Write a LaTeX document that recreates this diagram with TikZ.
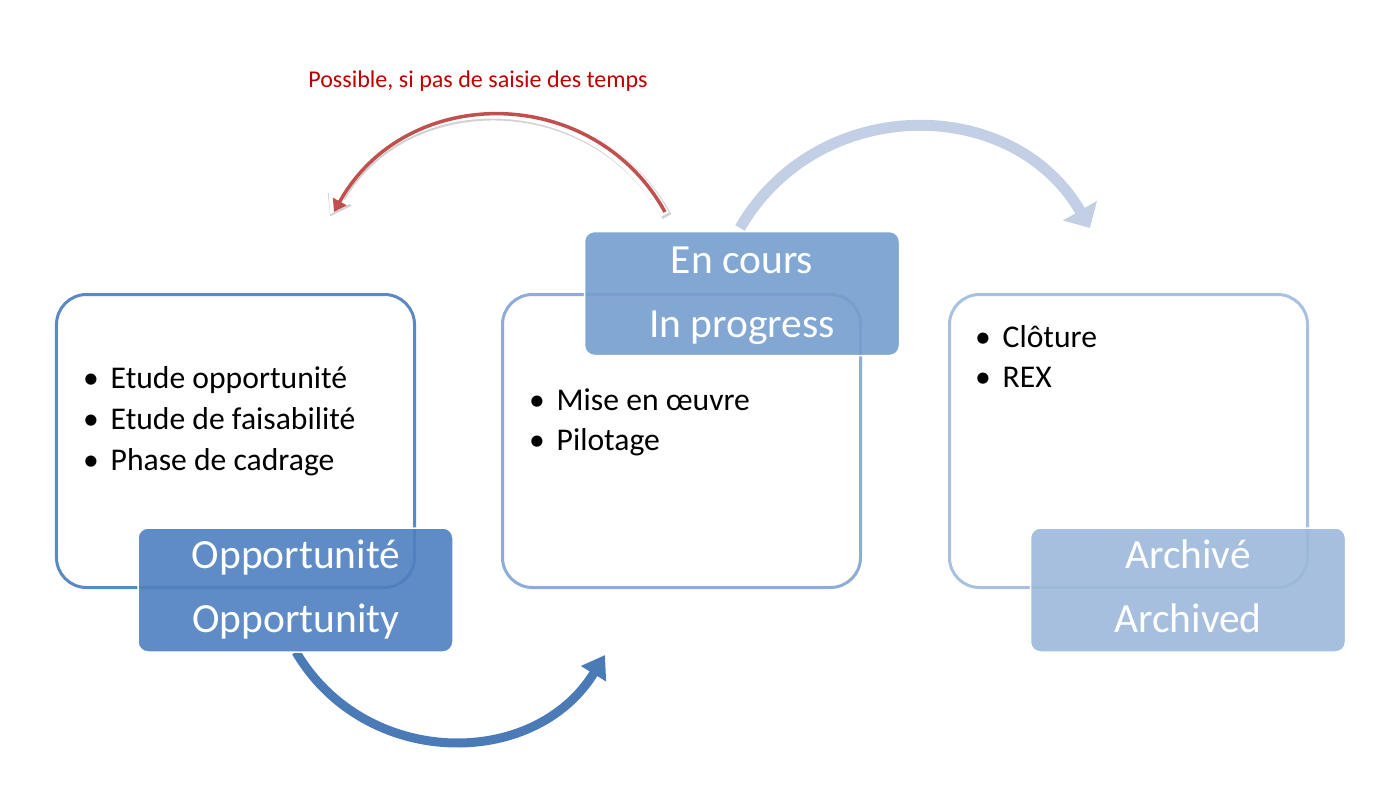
\documentclass[tikz,border=0pt]{standalone}
\usepackage{fontspec}
\setmainfont{Carlito}
\usetikzlibrary{arrows.meta}
\definecolor{bordA}{RGB}{91,137,196}
\definecolor{bordB}{RGB}{141,173,214}
\definecolor{bordC}{RGB}{169,193,225}
\definecolor{fondA}{RGB}{78,128,192}
\definecolor{fondB}{RGB}{118,157,206}
\definecolor{fondC}{RGB}{157,184,218}
\definecolor{flecheA}{RGB}{74,123,183}
\definecolor{flecheB}{RGB}{195,207,228}
\definecolor{flecheR}{RGB}{192,80,77}
\definecolor{texteR}{RGB}{192,0,0}

\begin{document}
\begin{tikzpicture}
\tikzset{cadre/.style={draw, rounded corners=0.3cm, line width=0.03cm, minimum width=3.58cm, minimum height=2.93cm},
etiquette/.style={draw=white, line width=0.015cm, rounded corners=0.1cm, fill opacity=0.9, minimum width=3.15cm, minimum height=1.24cm},
titre/.style={anchor=base, inner sep=0, text=white, font=\fontsize{11.8}{14}\selectfont},
item/.style={anchor=base west, inner sep=0, font=\fontsize{9}{11}\selectfont},
puce/.style={anchor=base, inner sep=0, font=\fontsize{9}{11}\selectfont}}
\useasboundingbox (0,0) rectangle (13.79,-7.85);
% boites
\node[cadre, draw=bordA] (cadreA) at (2.355,-4.41) {};
\node[cadre, draw=bordB] (cadreB) at (6.815,-4.41) {};
\node[cadre, draw=bordC] (cadreC) at (11.285,-4.41) {};
% listes
\node[puce] (pA1) at (0.91,-3.88) {•};
\node[item] (lA1) at (1.10,-3.88) {Etude opportunité};
\node[puce] (pA2) at (0.91,-4.29) {•};
\node[item] (lA2) at (1.10,-4.29) {Etude de faisabilité};
\node[puce] (pA3) at (0.91,-4.70) {•};
\node[item] (lA3) at (1.10,-4.70) {Phase de cadrage};
\node[puce] (pB1) at (5.37,-4.10) {•};
\node[item] (lB1) at (5.56,-4.10) {Mise en œuvre};
\node[puce] (pB2) at (5.37,-4.50) {•};
\node[item] (lB2) at (5.56,-4.50) {Pilotage};
\node[puce] (pC1) at (9.83,-3.47) {•};
\node[item] (lC1) at (10.02,-3.47) {Clôture};
\node[puce] (pC2) at (9.83,-3.87) {•};
\node[item] (lC2) at (10.02,-3.87) {REX};
% fleches
\coordinate (finA) at (6.05,-6.55);
\coordinate (finB) at (10.90,-2.28);
\coordinate (debR) at (6.65,-2.12);
\coordinate (finR) at (3.30,-2.12);
\node[titre, text=texteR, font=\fontsize{6.85}{8}\selectfont] (note) at (4.78,-0.88) {Possible, si pas de saisie des temps};
\draw[flecheA, line width=0.09cm, -{Triangle[length=0.22cm, width=0.28cm]}] (2.96,-6.52) to[bend right=59, looseness=1.12] (finA);
\draw[flecheB, line width=0.11cm, -{Triangle[length=0.2cm, width=0.38cm]}] (7.40,-2.28) to[bend left=60, looseness=1.135] (finB);
\draw[black!18, line width=0.1cm, -{Triangle[length=0.2cm, width=0.26cm]}] ([shift={(0.02,-0.045)}]debR) to[bend right=61, looseness=1.147] ([shift={(0.0,-0.045)}]finR);
\draw[white, line width=0.09cm, -{Triangle[length=0.2cm, width=0.24cm]}] ([yshift=-0.025cm]debR) to[bend right=61, looseness=1.147] ([yshift=-0.025cm]finR);
\draw[flecheR, line width=0.035cm, -{Triangle[length=0.12cm, width=0.15cm]}] (debR) to[bend right=61, looseness=1.147] ([xshift=0.04cm]finR);
% etiquettes
\node[etiquette, fill=fondA] (etiqA) at (2.955,-5.90) {};
\node[etiquette, fill=fondB] (etiqB) at (7.42,-2.935) {};
\node[etiquette, fill=fondC] (etiqC) at (11.88,-5.90) {};
\node[titre] (tA1) at (2.96,-5.68) {Opportunité};
\node[titre] (tA2) at (2.96,-6.32) {Opportunity};
\node[titre] (tB1) at (7.42,-2.73) {En cours};
\node[titre] (tB2) at (7.42,-3.37) {In progress};
\node[titre] (tC1) at (11.88,-5.68) {Archivé};
\node[titre] (tC2) at (11.88,-6.32) {Archived};
\end{tikzpicture}
\end{document}
